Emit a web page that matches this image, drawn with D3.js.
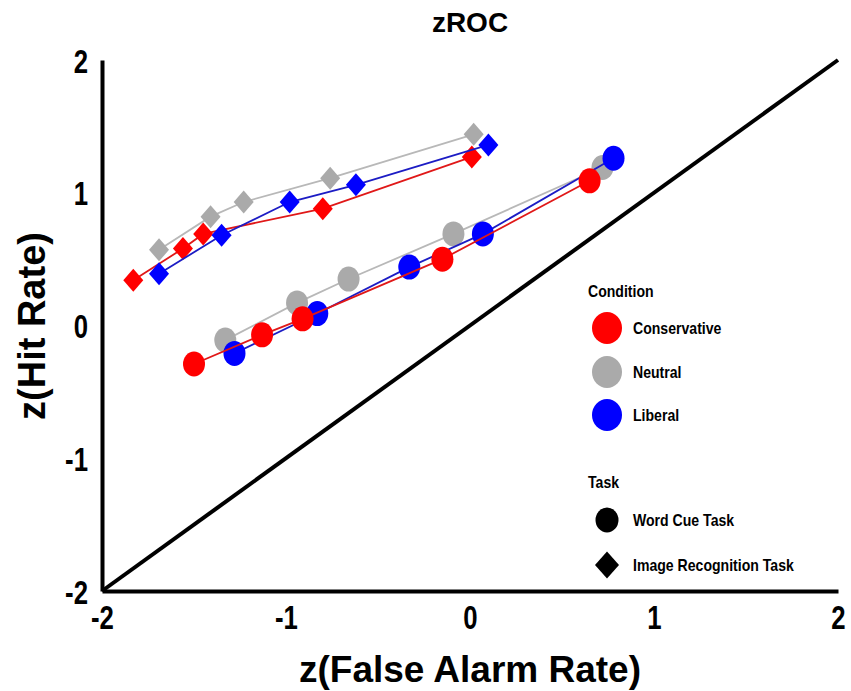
<!DOCTYPE html>
<html>
<head>
<meta charset="utf-8">
<script src="https://cdn.jsdelivr.net/npm/d3@7"></script>
<style>
  body { margin: 0; background: #fff; }
  svg text { font-family: "Liberation Sans", Arial, sans-serif; font-weight: bold; fill: #000; }
</style>
</head>
<body>
<div id="chart"></div>
<script>
// zROC data
var conditions = ["Neutral", "Liberal", "Conservative"]   // drawing order
var legendConditions = ["Conservative", "Neutral", "Liberal"]
var tasks = ["Word Cue Task", "Image Recognition Task"]
var ticks = [-2, -1, 0, 1, 2]

// word cue task (circles)
var wordConservativeX = [-1.50, -1.13, -0.91, -0.15, 0.65]
var wordConservativeY = [-0.29, -0.07, 0.05, 0.50, 1.09]
var wordNeutralX = [-1.33, -0.94, -0.66, -0.09, 0.72]
var wordNeutralY = [-0.11, 0.17, 0.35, 0.69, 1.19]
var wordLiberalX = [-1.28, -0.83, -0.33, 0.07, 0.78]
var wordLiberalY = [-0.21, 0.09, 0.44, 0.69, 1.26]

// image recognition task (diamonds)
var imageConservativeX = [-1.83, -1.56, -1.45, -0.80, 0.01]
var imageConservativeY = [0.34, 0.58, 0.69, 0.88, 1.27]
var imageNeutralX = [-1.69, -1.41, -1.23, -0.76, 0.02]
var imageNeutralY = [0.57, 0.82, 0.93, 1.11, 1.44]
var imageLiberalX = [-1.69, -1.35, -0.98, -0.62, 0.10]
var imageLiberalY = [0.39, 0.68, 0.93, 1.06, 1.36]

var fillColor = { Conservative: "#ff0000", Neutral: "#aaaaaa", Liberal: "#0000ff" }
var lineColor = { Conservative: "#e01818", Neutral: "#b8b8b8", Liberal: "#1c1cc4" }

var width = 851,
    height = 691

var x = d3.scaleLinear().domain([-2, 2]).range([102, 838])
var y = d3.scaleLinear().domain([-2, 2]).range([591, 60])

function pairs(xs, ys) {
    return xs.map(function(v, i) { return [v, ys[i]] })
}

var series = [
    { task: "word", cond: "Neutral", pts: pairs(wordNeutralX, wordNeutralY) },
    { task: "word", cond: "Liberal", pts: pairs(wordLiberalX, wordLiberalY) },
    { task: "word", cond: "Conservative", pts: pairs(wordConservativeX, wordConservativeY) },
    { task: "image", cond: "Neutral", pts: pairs(imageNeutralX, imageNeutralY) },
    { task: "image", cond: "Conservative", pts: pairs(imageConservativeX, imageConservativeY) },
    { task: "image", cond: "Liberal", pts: pairs(imageLiberalX, imageLiberalY) }
]

var svg = d3.select("#chart")
    .append("svg")
    .attr("width", width)
    .attr("height", height)

// chance line
svg.append("line")
    .attr("x1", x(-2)).attr("y1", y(-2))
    .attr("x2", x(2)).attr("y2", y(2))
    .attr("stroke", "#000")
    .attr("stroke-width", 4)

// axes, no tick marks, condensed labels
var xAxis = svg.append("g")
    .attr("transform", "translate(0," + y(-2) + ")")
    .call(d3.axisBottom(x).tickValues(ticks).tickSize(0).tickFormat(d3.format("d")))
xAxis.select(".domain").attr("stroke", "#000").attr("stroke-width", 4)
xAxis.selectAll("text")
    .attr("y", 38).attr("dy", 0)
    .attr("transform", "scale(0.78,1)")
    .style("font-size", "33px")
    .text(function(d) { return d < 0 ? "-" + Math.abs(d) : d })

var yAxis = svg.append("g")
    .attr("transform", "translate(" + x(-2) + ",0)")
    .call(d3.axisLeft(y).tickValues(ticks).tickSize(0))
yAxis.select(".domain").attr("stroke", "#000").attr("stroke-width", 4)
yAxis.selectAll("text")
    .attr("x", -14 / 0.78).attr("dy", 0).attr("y", 12)
    .attr("transform", "scale(0.78,1)")
    .style("font-size", "33px")
    .text(function(d) { return d < 0 ? "-" + Math.abs(d) : d })

var line = d3.line()
    .x(function(d) { return x(d[0]) })
    .y(function(d) { return y(d[1]) })

function diamondPath(w, h) {
    return "M0," + (-h) + "L" + w + ",0L0," + h + "L" + (-w) + ",0Z"
}

series.forEach(function(s) {
    var g = svg.append("g")
    g.append("path")
        .attr("d", line(s.pts))
        .attr("fill", "none")
        .attr("stroke", lineColor[s.cond])
        .attr("stroke-width", 1.8)
    if (s.task === "word") {
        g.selectAll("ellipse")
            .data(s.pts)
            .enter()
            .append("ellipse")
            .attr("cx", function(d) { return x(d[0]) })
            .attr("cy", function(d) { return y(d[1]) })
            .attr("rx", 11)
            .attr("ry", 12.5)
            .attr("fill", fillColor[s.cond])
    } else {
        g.selectAll("path.mark")
            .data(s.pts)
            .enter()
            .append("path")
            .attr("class", "mark")
            .attr("d", diamondPath(10, 11.5))
            .attr("transform", function(d) { return "translate(" + x(d[0]) + "," + y(d[1]) + ")" })
            .attr("fill", fillColor[s.cond])
    }
})

// titles
svg.append("text")
    .attr("x", 470).attr("y", 32)
    .attr("text-anchor", "middle")
    .style("font-size", "28px")
    .text("zROC")

svg.append("text")
    .attr("x", 470).attr("y", 682)
    .attr("text-anchor", "middle")
    .style("font-size", "37px")
    .text("z(False Alarm Rate)")

svg.append("text")
    .attr("transform", "translate(45,326) rotate(-90)")
    .attr("text-anchor", "middle")
    .style("font-size", "38px")
    .text("z(Hit Rate)")

// legend
var legend = svg.append("g")
function condensedText(px, py, size, str) {
    legend.append("text")
        .attr("transform", "translate(" + px + "," + py + ") scale(0.88,1)")
        .style("font-size", size + "px")
        .text(str)
}

condensedText(588, 297, 16, "Condition")
var condY = [328, 372, 415]
legendConditions.forEach(function(c, i) {
    legend.append("ellipse")
        .attr("cx", 607).attr("cy", condY[i])
        .attr("rx", 15).attr("ry", 16)
        .attr("fill", fillColor[c])
    condensedText(633, condY[i] + 6, 16, c)
})

condensedText(588, 488, 16, "Task")
var taskY = [520, 565]
legend.append("ellipse")
    .attr("cx", 607).attr("cy", taskY[0])
    .attr("rx", 11.5).attr("ry", 12.5)
    .attr("fill", "#000")
legend.append("path")
    .attr("d", diamondPath(12, 13.5))
    .attr("transform", "translate(607," + taskY[1] + ")")
    .attr("fill", "#000")
tasks.forEach(function(t, i) {
    condensedText(633, taskY[i] + 6, 16, t)
})
</script>
</body>
</html>
